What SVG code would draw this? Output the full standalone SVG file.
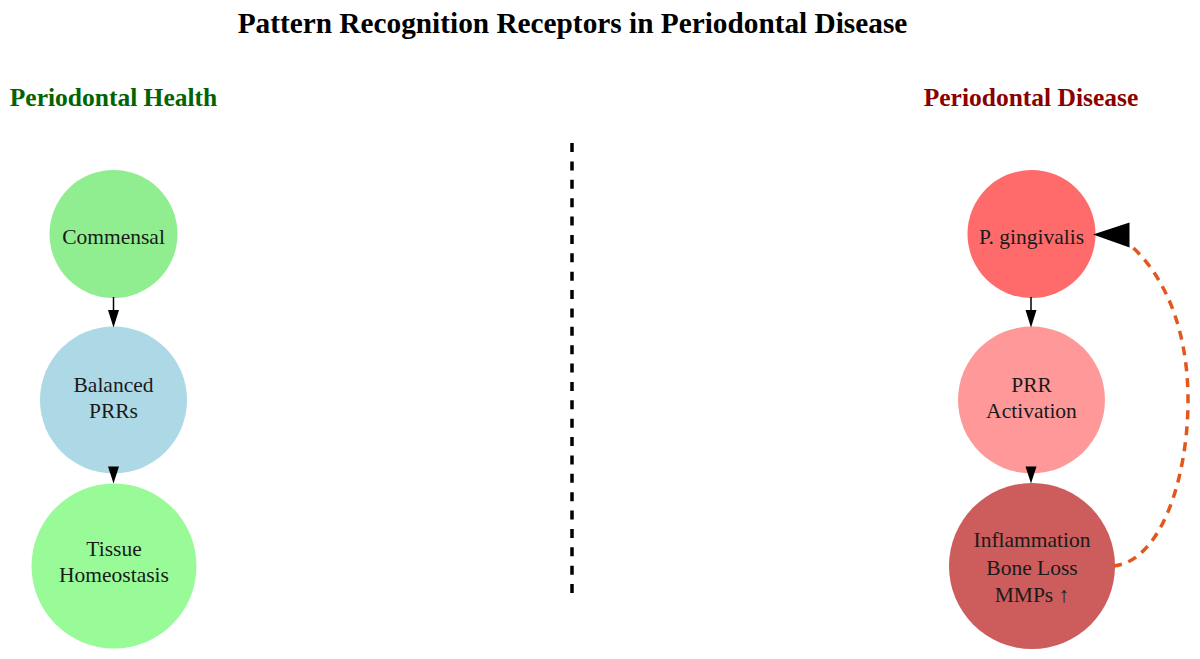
<svg xmlns="http://www.w3.org/2000/svg" width="1200" height="659" viewBox="0 0 1200 659">
<defs>
<style>
.title{font-family:"Liberation Serif","Times New Roman",serif;font-weight:bold;font-size:29.3px;fill:#000;text-anchor:middle}
.hdr{font-family:"Liberation Serif","Times New Roman",serif;font-weight:bold;font-size:25.5px;text-anchor:middle}
.lbl{font-family:"Liberation Serif","Times New Roman",serif;font-size:21.5px;fill:#1a1a1a;text-anchor:middle}
.edge{stroke:#000;stroke-width:1.5;fill:none}
.head{fill:#000}
</style>
</defs>
<rect width="1200" height="659" fill="#fff"/>
<text class="title" x="572.5" y="33">Pattern Recognition Receptors in Periodontal Disease</text>
<text class="hdr" x="113.5" y="106" fill="#006400">Periodontal Health</text>
<text class="hdr" x="1031" y="106" fill="#8B0000">Periodontal Disease</text>
<line x1="572" y1="143" x2="572" y2="593" stroke="#000" stroke-width="3.5" stroke-dasharray="9,9.375"/>

<g id="commensal">
<circle cx="113.5" cy="234" r="64" fill="#90EE90"/>
<text class="lbl" x="113.5" y="244">Commensal</text>
</g>
<g id="balanced">
<circle cx="113.5" cy="400" r="73.5" fill="#ADD8E6"/>
<text class="lbl" x="113.5" y="391.7">Balanced</text>
<text class="lbl" x="113.5" y="418.3">PRRs</text>
</g>
<g id="tissue">
<circle cx="114" cy="566" r="82.5" fill="#98FB98"/>
<text class="lbl" x="114" y="556">Tissue</text>
<text class="lbl" x="114" y="582">Homeostasis</text>
</g>
<g id="pging">
<circle cx="1031.5" cy="234" r="64" fill="#FF6B6B"/>
<text class="lbl" x="1031.5" y="243.5">P. gingivalis</text>
</g>
<g id="prr">
<circle cx="1031.5" cy="400" r="73.5" fill="#FF9999"/>
<text class="lbl" x="1031.5" y="391.7">PRR</text>
<text class="lbl" x="1031.5" y="418.3">Activation</text>
</g>
<g id="inflam">
<circle cx="1032" cy="566" r="83" fill="#CD5C5C"/>
<text class="lbl" x="1032" y="547">Inflammation</text>
<text class="lbl" x="1032" y="575">Bone Loss</text>
<text class="lbl" x="1032" y="602">MMPs ↑</text>
</g>

<g id="connectors">
<line class="edge" x1="113.5" y1="297" x2="113.5" y2="311"/>
<polygon class="head" points="108,310 119,310 113.5,327.5"/>
<polygon class="head" points="108,466.5 119,466.5 113.5,483.5"/>
<line class="edge" x1="1031" y1="297" x2="1031" y2="311"/>
<polygon class="head" points="1025.5,310 1036.5,310 1031,327.5"/>
<polygon class="head" points="1025.5,466.5 1036.5,466.5 1031,483.5"/>
<path d="M1113,566 C1160,562 1188,480 1188,400 C1188,330 1165,275 1129,244" fill="none" stroke="#E2571E" stroke-width="3.5" stroke-dasharray="9,7"/>
<polygon class="head" points="1093,234.5 1129.5,222.5 1129.5,247.5"/>
</g>
</svg>
